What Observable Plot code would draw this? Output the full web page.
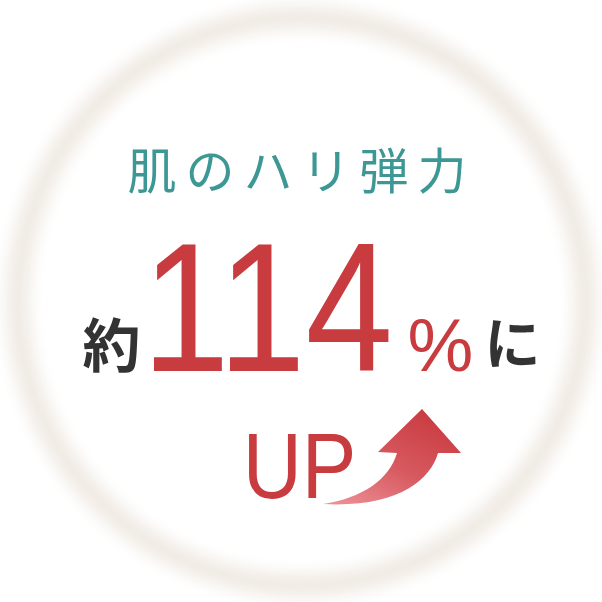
<!DOCTYPE html>
<html><head><meta charset="utf-8">
<script src="https://cdn.jsdelivr.net/npm/d3@7"></script>
<script src="https://cdn.jsdelivr.net/npm/@observablehq/plot@0.6"></script>
<style>body{margin:0;background:#fff}#chart svg{display:block}</style>
</head><body><div id="chart"></div>
<script>
// content
const headline = ["肌のハリ弾力"];
const prefix = ["約"];
const values = [114];
const unit = ["%"];
const suffix = ["に"];
const badge = ["UP"];

const RED = "#c83b3f", TEAL = "#3d9794", DARK = "#333333";

function defs() {
  const g = d3.create("svg:defs");
  const grad = g.append("linearGradient").attr("id", "arrowGrad")
    .attr("x1", "0.85").attr("y1", "0").attr("x2", "0.1").attr("y2", "1");
  grad.append("stop").attr("offset", "0").attr("stop-color", "#c7383d");
  grad.append("stop").attr("offset", "0.55").attr("stop-color", "#d75a60");
  grad.append("stop").attr("offset", "1").attr("stop-color", "#ec8f95");
  g.append("filter").attr("id", "ringBlur").attr("x", "-10%").attr("y", "-10%").attr("width", "120%").attr("height", "120%")
    .append("feGaussianBlur").attr("stdDeviation", 8);
  return g.node();
}

function arrow(index, scales) {
  const X = scales.x, Y = scales.y;
  const p = d3.path();
  p.moveTo(X(323), Y(504));
  p.bezierCurveTo(X(362), Y(498), X(389), Y(480), X(397), Y(453));
  p.lineTo(X(378), Y(452));
  p.lineTo(X(422), Y(409));
  p.lineTo(X(461), Y(453));
  p.lineTo(X(438), Y(453));
  p.bezierCurveTo(X(430), Y(481), X(396), Y(508), X(323), Y(504));
  p.closePath();
  return d3.create("svg:path").attr("d", p.toString()).attr("fill", "url(#arrowGrad)").node();
}

const chart = Plot.plot({
  width: 602, height: 602,
  margin: 0,
  x: {domain: [0, 602], range: [0, 602], axis: null},
  y: {domain: [0, 602], range: [0, 602], axis: null},
  marks: [
    defs,
    Plot.dot([0], {frameAnchor: "middle", r: 284, fill: "none", stroke: "#efe9e2", strokeWidth: 22}),
    Plot.text(headline, {x: 301, y: 188, text: d => d, fill: TEAL, fontSize: 49, fontWeight: 400,
      fontFamily: "Noto Sans CJK JP", lineAnchor: "bottom", textAnchor: "middle"}),
    Plot.text(prefix, {x: 111, y: 366, text: d => d, fill: DARK, fontSize: 58, fontWeight: 700,
      fontFamily: "Noto Sans CJK JP", lineAnchor: "bottom", textAnchor: "middle"}),
    Plot.text(values, {x: 267, y: 370, text: d => String(d), fill: RED, fontSize: 183, fontWeight: 400,
      fontFamily: "Liberation Sans", lineAnchor: "bottom", textAnchor: "middle"}),
    Plot.text(unit, {x: 440, y: 370, text: d => d, fill: RED, fontSize: 74, fontWeight: 400,
      fontFamily: "Liberation Sans", lineAnchor: "bottom", textAnchor: "middle"}),
    Plot.text(suffix, {x: 512, y: 363, text: d => d, fill: DARK, fontSize: 56, fontWeight: 700,
      fontFamily: "Noto Sans CJK JP", lineAnchor: "bottom", textAnchor: "middle"}),
    Plot.text(badge, {x: 299, y: 497, text: d => d, fill: RED, fontSize: 93, fontWeight: 400,
      fontFamily: "Liberation Sans", lineAnchor: "bottom", textAnchor: "middle"}),
    arrow
  ]
});

const svg = d3.select(chart);
svg.selectAll("circle").attr("filter", "url(#ringBlur)");
function squeeze(node, cx, k) {
  const g = d3.select(node.parentNode);
  const prev = g.attr("transform") || "";
  g.attr("transform", `${prev} translate(${cx},0) scale(${k},1) translate(${-cx},0)`);
}
svg.selectAll("text").each(function() {
  const t = this.textContent;
  const s = d3.select(this);
  if (t === headline[0]) s.style("letter-spacing", "9px");
  if (t === String(values[0])) squeeze(this, 267, 0.86);
  if (t === badge[0]) squeeze(this, 299, 0.88);
});
document.getElementById("chart").append(chart);
</script>
</body></html>
